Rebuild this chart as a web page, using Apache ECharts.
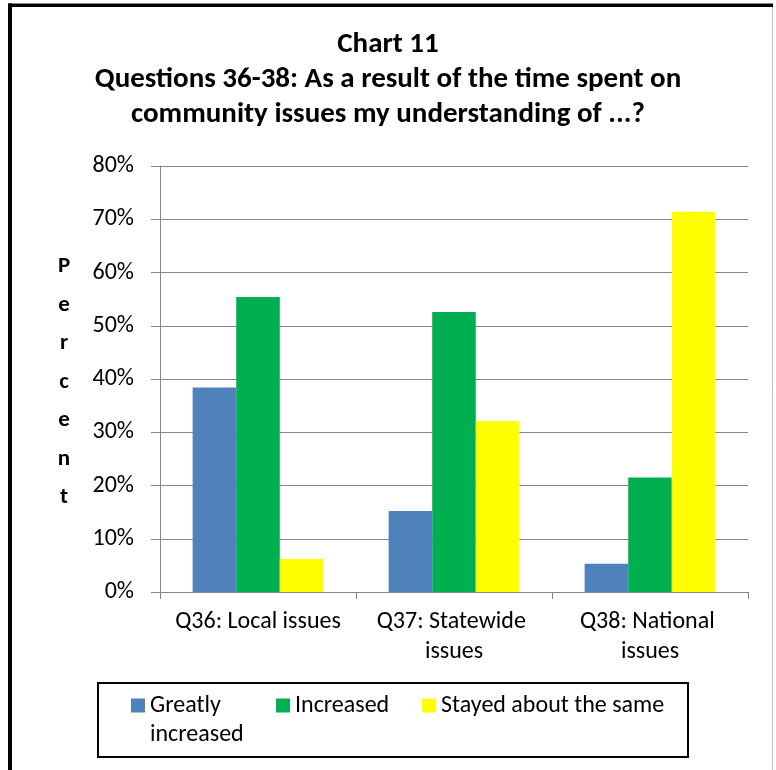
<!DOCTYPE html>
<html>
<head>
<meta charset="utf-8">
<script src="https://cdn.jsdelivr.net/npm/echarts@6/dist/echarts.min.js"></script>
<style>
html,body{margin:0;padding:0;background:#fff;}
#chart{width:776px;height:770px;}
</style>
</head>
<body>
<div id="chart"></div>
<script>
var categories = ['Q36: Local issues', 'Q37: Statewide issues', 'Q38: National issues'];
var seriesNames = ['Greatly increased', 'Increased', 'Stayed about the same'];
var greatlyIncreased = [38.4, 15.2, 5.3];
var increased = [55.4, 52.6, 21.5];
var stayedSame = [6.2, 32.1, 71.4];
var yMin = 0, yMax = 80, yStep = 10;
var titleLines = ['Chart 11', 'Questions 36-38: As a result of the time spent on', 'community issues my understanding of ...?'];
var yAxisTitle = 'Percent';

var FONT = 'Carlito, Lato, sans-serif';
var colors = ['#4F81BD', '#00B050', '#FFFF00'];
var chart = echarts.init(document.getElementById('chart'), null, {renderer: 'canvas'});

function legendAt(i, left, top) {
  var item = {name: seriesNames[i]};
  var lg = {
    data: [item],
    left: left, top: top, padding: 0,
    itemWidth: 14, itemHeight: 14, itemGap: 10,
    icon: 'rect',
    textStyle: {fontFamily: FONT, fontSize: 24, color: '#000', lineHeight: 29}
  };
  if (i === 0) {
    item.textStyle = {width: 116, overflow: 'break', lineHeight: 29};
    // leading empty line keeps the first text line level with the icon
    lg.formatter = function (name) { return '\n' + name; };
  }
  return lg;
}

var option = {
  backgroundColor: '#fff',
  animation: false,
  title: {
    text: titleLines.join('\n'),
    left: 'center', top: 22,
    textStyle: {fontFamily: FONT, fontSize: 29, fontWeight: 'bold', color: '#000', lineHeight: 35}
  },
  legend: [legendAt(0, 131, 662), legendAt(1, 276, 691), legendAt(2, 422, 691)],
  grid: {left: 160, right: 28, top: 166, bottom: 178, containLabel: false},
  xAxis: {
    type: 'category',
    data: categories,
    axisLine: {lineStyle: {color: '#868686', width: 1}},
    axisTick: {show: true, length: 7, lineStyle: {color: '#868686'}},
    axisLabel: {
      interval: 0, margin: 15, color: '#000', fontFamily: FONT, fontSize: 24,
      lineHeight: 30, width: 180, overflow: 'break'
    }
  },
  yAxis: {
    type: 'value', min: yMin, max: yMax, interval: yStep,
    axisLine: {show: true, lineStyle: {color: '#868686', width: 1}},
    axisTick: {show: true, length: 9, lineStyle: {color: '#868686'}},
    splitLine: {show: true, lineStyle: {color: '#868686', width: 1}},
    axisLabel: {formatter: '{value}%', margin: 26, color: '#000', fontFamily: FONT, fontSize: 24}
  },
  series: [
    {name: seriesNames[0], type: 'bar', data: greatlyIncreased, barGap: '0%', barCategoryGap: '33.3%', itemStyle: {color: colors[0]}},
    {name: seriesNames[1], type: 'bar', data: increased, barGap: '0%', barCategoryGap: '33.3%', itemStyle: {color: colors[1]}},
    {name: seriesNames[2], type: 'bar', data: stayedSame, barGap: '0%', barCategoryGap: '33.3%', itemStyle: {color: colors[2]}}
  ],
  graphic: [
    {type: 'text', x: 64, y: 382, style: {text: yAxisTitle.split('').join('\n'), font: 'bold 23px ' + FONT, fill: '#000', lineHeight: 38.5, align: 'center', verticalAlign: 'middle'}},
    {type: 'rect', shape: {x: 98, y: 683, width: 590, height: 74}, style: {fill: 'none', stroke: '#000', lineWidth: 2}, z: 1},
    {type: 'line', shape: {x1: 8, y1: 5.2, x2: 773, y2: 5.2}, style: {stroke: '#000', lineWidth: 3.5}},
    {type: 'line', shape: {x1: 10, y1: 3.5, x2: 10, y2: 770}, style: {stroke: '#000', lineWidth: 4}},
    {type: 'line', shape: {x1: 772.5, y1: 7, x2: 772.5, y2: 770}, style: {stroke: '#bfbfbf', lineWidth: 1}}
  ]
};
chart.setOption(option);
</script>
</body>
</html>
